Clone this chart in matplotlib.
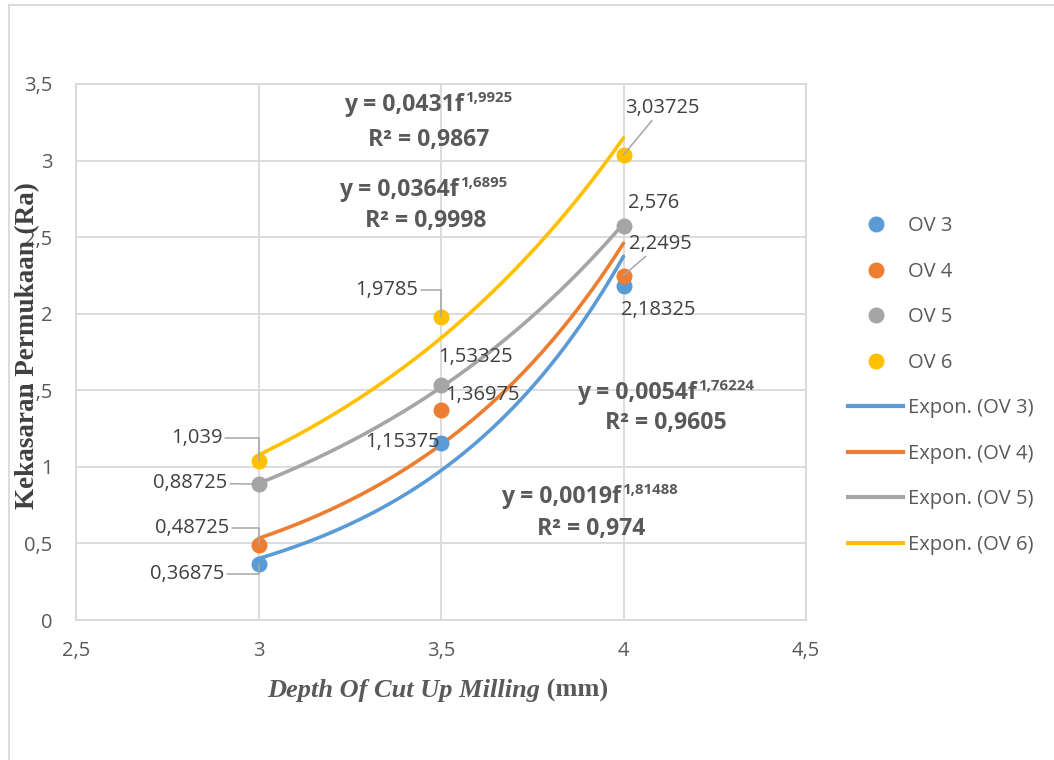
import numpy as np
import matplotlib
matplotlib.use("Agg")
import matplotlib.pyplot as plt
from matplotlib.lines import Line2D

# ---------------- data ----------------
depth = [3.0, 3.5, 4.0]
series_names = ["OV 3", "OV 4", "OV 5", "OV 6"]
ov3 = [0.36875, 1.15375, 2.18325]
ov4 = [0.48725, 1.36975, 2.2495]
ov5 = [0.88725, 1.53325, 2.576]
ov6 = [1.039, 1.9785, 3.03725]
label_ov3 = ["0,36875", "1,15375", "2,18325"]
label_ov4 = ["0,48725", "1,36975", "2,2495"]
label_ov5 = ["0,88725", "1,53325", "2,576"]
label_ov6 = ["1,039", "1,9785", "3,03725"]
eq_main = ["y = 0,0019f", "y = 0,0054f", "y = 0,0364f", "y = 0,0431f"]
eq_exp = ["1,81488", "1,76224", "1,6895", "1,9925"]
eq_r2 = ["R\u00b2 = 0,974", "R\u00b2 = 0,9605", "R\u00b2 = 0,9998", "R\u00b2 = 0,9867"]
xticks = [2.5, 3.0, 3.5, 4.0, 4.5]
xticklabels = ["2,5", "3", "3,5", "4", "4,5"]
yticks = [0, 0.5, 1, 1.5, 2, 2.5, 3, 3.5]
yticklabels = ["0", "0,5", "1", "1,5", "2", "2,5", "3", "3,5"]

colors = ["#5B9BD5", "#ED7D31", "#A5A5A5", "#FFC000"]
values = [ov3, ov4, ov5, ov6]
labels = [label_ov3, label_ov4, label_ov5, label_ov6]

W, H = 1054, 760
fig = plt.figure(figsize=(W / 100, H / 100), dpi=100)
FONT = "Open Sans"
TXT = "#595959"
GRID = "#d9d9d9"

def px(x, y):
    """top-left pixel coords -> figure fraction"""
    return (x / W, 1 - y / H)

ax = fig.add_axes([76 / W, 1 - 620 / H, (806 - 76) / W, (620 - 84) / H])
ax.set_xlim(2.5, 4.5)
ax.set_ylim(0, 3.5)
ax.set_xticks(xticks)
ax.set_xticklabels(xticklabels, fontfamily=FONT, fontsize=14.5, color=TXT)
ax.set_yticks(yticks)
ax.set_yticklabels(yticklabels, fontfamily=FONT, fontsize=14.5, color=TXT)
ax.tick_params(axis="both", length=0)
ax.tick_params(axis="y", pad=17)
ax.tick_params(axis="x", pad=15)
ax.grid(True, color=GRID, lw=1.3)
ax.set_axisbelow(True)
for s in ax.spines.values():
    s.set_color(GRID)
    s.set_linewidth(1.3)

# trendlines (exponential fit) and points
xs = np.linspace(depth[0], depth[-1], 200)
for vals, c in zip(values, colors):
    b, a = np.polyfit(depth, np.log(vals), 1)
    ax.plot(xs, np.exp(a + b * xs), color=c, lw=2.6, zorder=3, solid_capstyle="round")
for vals, c in zip(values, colors):
    ax.plot(depth, vals, "o", color=c, ms=10.5, zorder=4, ls="none")

# data labels: (dx, dy) pixel offsets from point, ha, leader style
LEAD = "#a6a6a6"
label_specs = [
    [(-34, -10.5, "right", "elbow"), (-1, 1, "right", None), (-3, -24, "left", None)],
    [(-29, 17, "right", "elbow"), (4, 15, "left", None), (37, 32, "center", "straight")],
    [(-31, 1, "right", "straight"), (-3, 28, "left", None), (4, 23, "left", None)],
    [(-36, 23, "right", "elbow"), (-23, 27, "right", "elbow"), (39, 47, "center", "straight")],
]
for vals, labs, specs in zip(values, labels, label_specs):
    for xv, yv, lab, (dx, dy, ha, lead) in zip(depth, vals, labs, specs):
        kw = {}
        if lead == "elbow":
            kw["arrowprops"] = dict(arrowstyle="-", color=LEAD, lw=1.1, shrinkA=0, shrinkB=0,
                                    relpos=(1, 0.5),
                                    connectionstyle="angle,angleA=0,angleB=90,rad=0")
        elif lead == "straight":
            kw["arrowprops"] = dict(arrowstyle="-", color=LEAD, lw=1.1, shrinkA=0, shrinkB=0)
        ax.annotate(lab, xy=(xv, yv), xytext=(dx, dy), textcoords="offset pixels",
                    ha=ha, va="center", fontfamily=FONT, fontsize=14.5, color="#404040",
                    zorder=5, **kw)

# trendline equations: (left px, center y px of eq), (center px, center y px of R2)
eq_pos = [((501, 497), (591, 529)), ((577, 393), (666, 423)),
          ((339, 190), (426, 221)), ((344, 105), (429, 140))]
for m, e, r, ((ex, ey), (rx, ry)) in zip(eq_main, eq_exp, eq_r2, eq_pos):
    t = fig.text(*px(ex, ey), m, ha="left", va="center", fontfamily=FONT,
                 fontweight="bold", fontsize=16.6, color=TXT)
    ax.annotate(e, xy=(1, 1), xycoords=t, xytext=(1, 2), textcoords="offset pixels",
                ha="left", va="top", fontfamily=FONT, fontweight="bold", fontsize=10.8,
                color=TXT, annotation_clip=False)
    fig.text(*px(rx, ry), r, ha="center", va="center", fontfamily=FONT,
             fontweight="bold", fontsize=16.6, color=TXT)

# axis titles
fig.text(*px(28, 346), "Kekasaran Permukaan (Ra)", rotation=90, ha="center", va="center",
         fontfamily="Liberation Serif", fontweight="bold", fontsize=19.5, color="#404040")
t1 = fig.text(*px(267, 690), "Depth Of Cut Up Milling", ha="left", va="center",
              fontfamily="Liberation Serif", fontweight="bold", fontstyle="italic",
              fontsize=19, color=TXT)
ax.annotate(" (mm)", xy=(1, 0), xycoords=t1, ha="left", va="bottom",
            fontfamily="Liberation Serif", fontweight="bold", fontsize=19, color=TXT,
            annotation_clip=False)

# legend
handles = [Line2D([], [], marker="o", ls="none", color=c, ms=10.5) for c in colors]
handles += [Line2D([], [], color=c, lw=3) for c in colors]
leg_labels = series_names + ["Expon. (%s)" % n for n in series_names]
fig.legend(handles, leg_labels, loc="upper left", bbox_to_anchor=px(848, 216),
           frameon=False, prop={"family": FONT, "size": 14.5}, labelcolor=TXT,
           handlelength=2.75, handletextpad=0.25, labelspacing=1.27,
           borderpad=0, borderaxespad=0)

# outer chart border (left and top)
fig.add_artist(Line2D([8.5 / W, 8.5 / W], [0, 1 - 4.5 / H], color=GRID, lw=1.3))
fig.add_artist(Line2D([8.5 / W, 1], [1 - 4.5 / H, 1 - 4.5 / H], color=GRID, lw=1.3))

fig.savefig("out.png", dpi=100, facecolor="white")
